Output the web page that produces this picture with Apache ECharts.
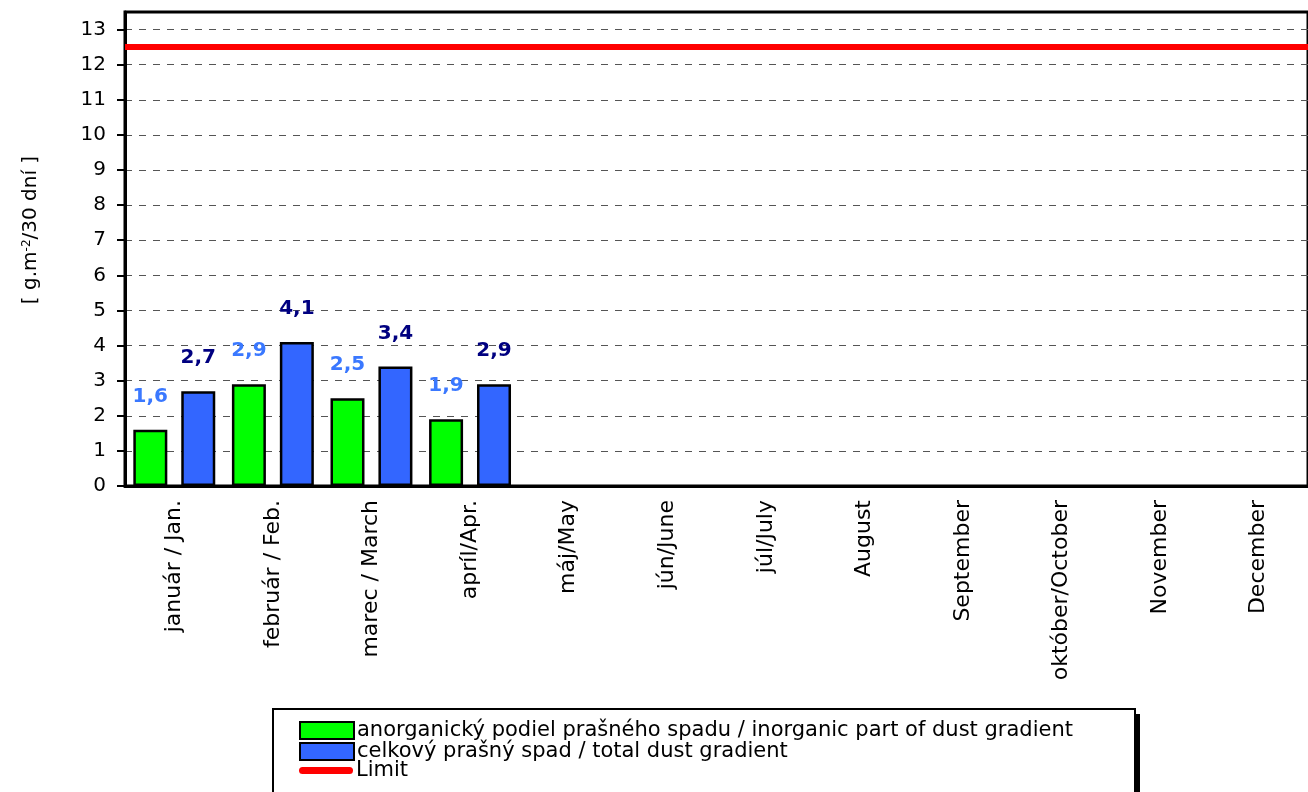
<!DOCTYPE html>
<html>
<head>
<meta charset="utf-8">
<script src="https://cdn.jsdelivr.net/npm/echarts@6/dist/echarts.min.js"></script>
<style>
  html, body { margin: 0; padding: 0; background: #fff; }
  #chart { width: 1308px; height: 792px; }
</style>
</head>
<body>
<div id="chart"></div>
<script>
const months = ['január / Jan.', 'február / Feb.', 'marec / March', 'apríl/Apr.', 'máj/May', 'jún/June',
  'júl/July', 'August', 'September', 'október/October', 'November', 'December'];
const inorganic = [1.6, 2.9, 2.5, 1.9, null, null, null, null, null, null, null, null];
const total = [2.7, 4.1, 3.4, 2.9, null, null, null, null, null, null, null, null];
const yTicks = [0, 1, 2, 3, 4, 5, 6, 7, 8, 9, 10, 11, 12, 13];
const limitValue = 12.5;

const nameInorg = 'anorganický podiel prašného spadu / inorganic part of dust gradient';
const nameTotal = 'celkový prašný spad / total dust gradient';

const font = 'DejaVu Sans';
const comma = p => String(p.value).replace('.', ',');

// one legend per row, so the rows stack tightly inside the box
const legendRow = (item, top) => ({
  left: 299, top: top,
  padding: 0,
  itemWidth: 54, itemHeight: 17, itemGap: 0,
  symbolKeepAspect: true,
  textStyle: { fontSize: 21, color: '#000', fontFamily: font, padding: [0, 0, 0, -2] },
  data: [item]
});

const chart = echarts.init(document.getElementById('chart'));

const option = {
  animation: false,
  textStyle: { fontFamily: font },
  grid: {
    left: 125, top: 12, right: -12, bottom: 306,
    show: true, borderColor: '#000', borderWidth: 3
  },
  graphic: [
    { type: 'rect', z: 0, shape: { x: 278, y: 714, width: 862, height: 120 }, style: { fill: '#000' } },
    { type: 'rect', z: 1, shape: { x: 273, y: 709, width: 862, height: 120 },
      style: { fill: '#fff', stroke: '#000', lineWidth: 2 } }
  ],
  legend: [
    legendRow({ name: nameInorg, icon: 'rect' }, 720),
    legendRow({ name: nameTotal, icon: 'rect' }, 741),
    legendRow({
      name: 'Limit',
      icon: 'path://M3.5,0 H50.5 A3.5,3.5 0 0 1 50.5,7 H3.5 A3.5,3.5 0 0 1 3.5,0 Z',
      itemStyle: { color: '#ff0000', borderWidth: 0 }
    }, 760)
  ],
  xAxis: {
    type: 'category',
    data: months,
    axisLine: { lineStyle: { color: '#000', width: 3 } },
    axisTick: { length: 8, lineStyle: { color: '#000', width: 2 } },
    axisLabel: { rotate: 90, fontSize: 22, color: '#000', margin: 14, interval: 0 }
  },
  yAxis: {
    type: 'value',
    min: 0, max: 13.5, interval: 1,
    name: '{a|[ g.m}{s|-2}{a|/30 dní ]}',
    nameLocation: 'middle',
    nameRotate: 90,
    nameGap: 84,
    nameTextStyle: {
      padding: [0, 0, 0, 38],
      rich: {
        a: { fontSize: 20, color: '#000', fontFamily: font },
        s: { fontSize: 12, color: '#000', fontFamily: font, verticalAlign: 'top', padding: [0, 0, 8, 0] }
      }
    },
    axisLine: { show: true, lineStyle: { color: '#000', width: 3 } },
    axisTick: { show: true, length: 8, customValues: yTicks, lineStyle: { color: '#000', width: 2 } },
    axisLabel: { fontSize: 20, color: '#000', margin: 19, customValues: yTicks },
    splitLine: { lineStyle: { color: '#555', type: [7, 7], width: 1 } }
  },
  series: [
    {
      name: nameInorg,
      type: 'bar',
      data: inorganic,
      barWidth: 34,
      barGap: '41%',
      itemStyle: { color: '#00ff00', borderColor: '#000', borderWidth: 2.5 },
      label: {
        show: true, position: 'top', distance: 23,
        color: '#3a78ff', fontSize: 20, fontWeight: 'bold', formatter: comma
      }
    },
    {
      name: nameTotal,
      type: 'bar',
      data: total,
      barWidth: 34,
      itemStyle: { color: '#3366ff', borderColor: '#000', borderWidth: 2.5 },
      label: {
        show: true, position: 'top', distance: 23,
        color: '#000080', fontSize: 20, fontWeight: 'bold', formatter: comma
      }
    },
    {
      name: 'Limit',
      type: 'line',
      data: [],
      symbol: 'none',
      itemStyle: { color: '#ff0000' },
      lineStyle: { color: '#ff0000', width: 6 },
      markLine: {
        silent: true,
        symbol: 'none',
        label: { show: false },
        lineStyle: { color: '#ff0000', width: 6, type: 'solid' },
        data: [{ yAxis: limitValue }]
      }
    }
  ]
};

chart.setOption(option);
</script>
</body>
</html>
